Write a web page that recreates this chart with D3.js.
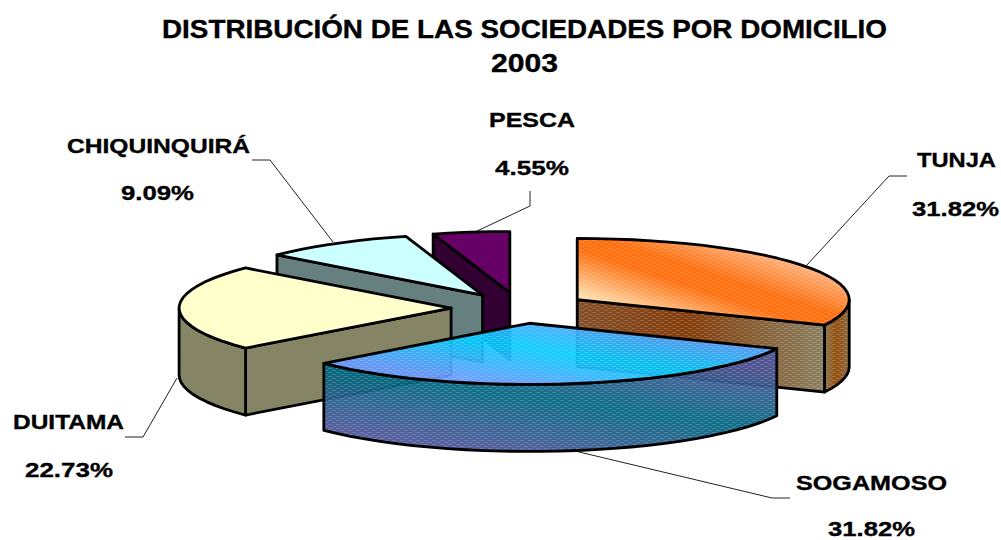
<!DOCTYPE html>
<html lang="es">
<head>
<meta charset="UTF-8">
<script src="https://d3js.org/d3.v7.min.js"></script>
<title>Sociedades por domicilio</title>
<style>
  body { margin: 0; background: #fff; }
  text { font-family: "Liberation Sans", Arial, sans-serif; font-weight: bold; fill: #000; stroke: #000; stroke-width: 0.35px; }
</style>
</head>
<body>
<div id="chart"></div>
<script>
// data
const cities = ["TUNJA", "SOGAMOSO", "DUITAMA", "CHIQUINQUIRÁ", "PESCA"];
const shares = [31.82, 31.82, 22.73, 9.09, 4.55];
const titleLines = ["DISTRIBUCIÓN DE LAS SOCIEDADES POR DOMICILIO", "2003"];

// styling
const topFill = ["url(#tunjaTop)", "url(#sogaTop)", "#ffffcc", "#ccffff", "#660066"];
const faceFill = ["url(#tunjaFace)", "url(#sogaWall)", "#858565", "#668080", "#330033"];
const wallFill = ["url(#tunjaWall)", "url(#sogaWall)", "#858565", "#668080", "#330033"];
const dithered = [true, true, false, false, false];
const drawOrder = [4, 3, 0, 2, 1];

// label layout: [name x, name width, name baseline, pct x, pct width, pct baseline]
const labelBox = [
  [917, 79, 167, 912, 87, 216],
  [796, 151, 490, 828, 87, 535.5],
  [13, 111, 429, 25, 88, 477],
  [67, 183, 153, 121, 73, 200],
  [489, 86, 127, 495, 74, 175]
];
const leaders = [
  [[907, 176], [889, 176], [806, 266]],
  [[790, 498], [772, 498], [575, 451]],
  [[125, 437], [143, 437], [177, 378]],
  [[252, 160], [270, 160], [333, 242]],
  [[530, 191], [530, 206], [475, 232]]
];

const width = 1001, height = 540;
// 3d pie geometry
const cx = 519.6, cy = 308, radius = 272, tilt = 0.225, explode = 68.5, depth = 67;

const svg = d3.select("#chart").append("svg")
  .attr("width", width)
  .attr("height", height)
  .style("display", "block");

const defs = svg.append("defs");

function gradient(id, p1, p2, stops) {
  const g = defs.append("linearGradient")
    .attr("id", id)
    .attr("gradientUnits", "userSpaceOnUse")
    .attr("x1", p1[0]).attr("y1", p1[1])
    .attr("x2", p2[0]).attr("y2", p2[1]);
  stops.forEach(s => g.append("stop").attr("offset", s[0]).attr("stop-color", s[1]));
}

gradient("tunjaTop", [683, 332], [717, 228], [[0, "#ffe4b8"], [0.42, "#ff7010"], [0.58, "#ff7010"], [1, "#ffc49a"]]);
gradient("tunjaFace", [577, 0], [822, 0], [[0, "#85502a"], [0.45, "#843e0c"], [1, "#8b8060"]]);
gradient("tunjaWall", [822, 0], [850, 0], [[0, "#8b8060"], [0.5, "#94500f"], [1, "#8b6a48"]]);
gradient("sogaTop", [581, 397], [593, 317], [[0, "#6699ff"], [0.5, "#00ccff"], [1, "#6699ff"]]);
gradient("sogaWall", [504, 454], [520, 336], [[0, "#4d5599"], [0.5, "#006680"], [1, "#4d5599"]]);

const dither = defs.append("pattern")
  .attr("id", "dither")
  .attr("patternUnits", "userSpaceOnUse")
  .attr("width", 8)
  .attr("height", 4);
dither.append("rect").attr("x", 0).attr("y", 0).attr("width", 4).attr("height", 1).attr("fill", "#fff").attr("opacity", 0.16);
dither.append("rect").attr("x", 4).attr("y", 2).attr("width", 4).attr("height", 1).attr("fill", "#fff").attr("opacity", 0.16);

const arcs = d3.pie().sort(null)(shares);

// pie angle (clockwise from 12 o'clock) to screen position
function project(d, a, r, drop) {
  const mid = (d.startAngle + d.endAngle) / 2;
  return [
    cx + explode * Math.sin(mid) + r * Math.sin(a),
    cy - tilt * explode * Math.cos(mid) - tilt * r * Math.cos(a) + drop
  ];
}

// coarse steps give the faceted rim of the original
function arcPoints(d, a0, a1, drop) {
  const n = Math.max(2, Math.ceil((a1 - a0) / 0.07));
  return d3.range(n + 1).map(i => project(d, a0 + (a1 - a0) * i / n, radius, drop));
}

const line = d3.line();
const closed = pts => line(pts) + "Z";

function face(d, a) {
  return closed([project(d, a, 0, 0), project(d, a, radius, 0), project(d, a, radius, depth), project(d, a, 0, depth)]);
}

// leader lines go under the slices
svg.append("g").selectAll("path")
  .data(leaders)
  .join("path")
  .attr("d", line)
  .attr("fill", "none")
  .attr("stroke", "#222")
  .attr("stroke-width", 1);

function paint(g, d, fill, isDithered, opacity) {
  g.append("path").attr("d", d).attr("fill", fill).attr("fill-opacity", opacity);
  if (isDithered) g.append("path").attr("d", d).attr("fill", "url(#dither)");
  g.append("path").attr("d", d).attr("fill", "none")
    .attr("stroke", "#000").attr("stroke-width", 2.8).attr("stroke-linejoin", "round");
}

const slices = svg.append("g");
drawOrder.forEach(i => {
  const d = arcs[i];
  const g = slices.append("g");
  const op = i === 1 ? 0.93 : 1;

  // flat side faces turned to the viewer
  if (Math.cos(d.startAngle - Math.PI / 2) < -1e-6) paint(g, face(d, d.startAngle), faceFill[i], dithered[i], op);
  if (Math.cos(d.endAngle + Math.PI / 2) < -1e-6) paint(g, face(d, d.endAngle), faceFill[i], dithered[i], op);

  // curved wall, front half of the ellipse only
  const a0 = Math.max(d.startAngle, Math.PI / 2);
  const a1 = Math.min(d.endAngle, 3 * Math.PI / 2);
  if (a1 > a0) {
    paint(g, closed(arcPoints(d, a0, a1, 0).concat(arcPoints(d, a0, a1, depth).reverse())), wallFill[i], dithered[i], op);
  }

  // top
  const top = [project(d, 0, 0, 0)].concat(arcPoints(d, d.startAngle, d.endAngle, 0));
  paint(g, closed(top), topFill[i], dithered[i], op);
});

// titles
const titleBox = [[162, 725, 38], [491, 67, 72]];
svg.append("g").selectAll("text")
  .data(titleLines)
  .join("text")
  .attr("x", (d, i) => titleBox[i][0])
  .attr("y", (d, i) => titleBox[i][2])
  .attr("textLength", (d, i) => titleBox[i][1])
  .attr("lengthAdjust", "spacingAndGlyphs")
  .attr("font-size", 25)
  .text(d => d);

const fmt = d3.format(".2f");
const labels = svg.append("g").selectAll("g")
  .data(cities)
  .join("g");
labels.append("text")
  .attr("x", (d, i) => labelBox[i][0])
  .attr("y", (d, i) => labelBox[i][2])
  .attr("textLength", (d, i) => labelBox[i][1])
  .attr("lengthAdjust", "spacingAndGlyphs")
  .attr("font-size", 21)
  .text(d => d);
labels.append("text")
  .attr("x", (d, i) => labelBox[i][3])
  .attr("y", (d, i) => labelBox[i][5])
  .attr("textLength", (d, i) => labelBox[i][4])
  .attr("lengthAdjust", "spacingAndGlyphs")
  .attr("font-size", 21)
  .text((d, i) => fmt(shares[i]) + "%");
</script>
</body>
</html>
